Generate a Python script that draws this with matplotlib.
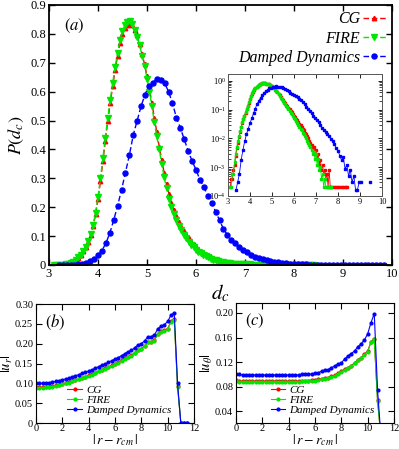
import numpy as np
import matplotlib
matplotlib.use('Agg')
import matplotlib.pyplot as plt
from matplotlib.ticker import LogLocator, NullFormatter

plt.rcParams['font.family'] = ['Liberation Serif', 'DejaVu Serif']
plt.rcParams['mathtext.fontset'] = 'stix'

# %%
# distribution of d_c, CG and FIRE binned at 0.05, damped dynamics at 0.08
d_cg = np.round(np.linspace(3.10, 8.40, 107), 2)
p_cg = [0.0002, 0.0004, 0.0004, 0.0008, 0.0012, 0.0025, 0.0045, 0.007, 0.011, 0.017,
        0.025, 0.035, 0.047, 0.062, 0.080, 0.103, 0.134, 0.175, 0.228, 0.29,
        0.36, 0.43, 0.50, 0.56, 0.62, 0.675, 0.725, 0.77, 0.80, 0.82,
        0.83, 0.835, 0.83, 0.815, 0.795, 0.765, 0.73, 0.695, 0.655, 0.61,
        0.56, 0.51, 0.46, 0.41, 0.365, 0.32, 0.28, 0.245, 0.215, 0.19,
        0.168, 0.148, 0.132, 0.117, 0.104, 0.092, 0.081, 0.071, 0.063, 0.056,
        0.049, 0.043, 0.038, 0.033, 0.029, 0.025, 0.022, 0.019, 0.016, 0.014,
        0.012, 0.010, 0.0085, 0.007, 0.006, 0.0045, 0.005, 0.003, 0.004, 0.002,
        0.003, 0.0012, 0.0018, 0.0008, 0.0012, 0.0006, 0.0008, 0.0004, 0.0006, 0.0002,
        0.0008, 0.0002, 0.0002, 0.0002, 0.0002, 0.0002, 0, 0.0002, 0.0002, 0,
        0.0002, 0, 0.0002, 0.0002, 0.0002, 0.0002, 0.0002]
p_fire = [0.0002, 0.0002, 0.0006, 0.0006, 0.0015, 0.003, 0.005, 0.008, 0.012, 0.018,
          0.026, 0.036, 0.048, 0.063, 0.082, 0.106, 0.138, 0.18, 0.235, 0.30,
          0.37, 0.44, 0.51, 0.57, 0.63, 0.685, 0.735, 0.78, 0.81, 0.83,
          0.84, 0.845, 0.835, 0.815, 0.79, 0.76, 0.725, 0.69, 0.645, 0.60,
          0.55, 0.495, 0.445, 0.40, 0.35, 0.305, 0.265, 0.23, 0.20, 0.175,
          0.155, 0.135, 0.12, 0.105, 0.092, 0.08, 0.07, 0.061, 0.053, 0.046,
          0.040, 0.035, 0.030, 0.026, 0.022, 0.019, 0.016, 0.014, 0.012, 0.010,
          0.0085, 0.007, 0.006, 0.005, 0.004, 0.0028, 0.0035, 0.002, 0.0028, 0.0012,
          0.002, 0.0008, 0.001, 0.0004, 0.0006, 0.0002, 0.0004, 0.0002, 0.0002, 0.0002,
          0.0002, 0.0002, 0.0002, 0, 0, 0, 0, 0, 0, 0,
          0, 0, 0, 0, 0, 0, 0]
d_dd = np.round(np.linspace(3.20, 9.84, 84), 2)
p_dd = [0, 0, 0.00016, 0.0003, 0.0006, 0.0018, 0.004, 0.008, 0.014, 0.022,
        0.034, 0.05, 0.075, 0.11, 0.155, 0.205, 0.26, 0.32, 0.38, 0.45,
        0.50, 0.55, 0.59, 0.62, 0.63, 0.645, 0.64, 0.63, 0.60, 0.56,
        0.51, 0.475, 0.435, 0.395, 0.36, 0.33, 0.295, 0.27, 0.24, 0.215,
        0.185, 0.155, 0.125, 0.105, 0.088, 0.075, 0.063, 0.052, 0.044, 0.036,
        0.029, 0.024, 0.020, 0.017, 0.014, 0.012, 0.0095, 0.008, 0.0062, 0.0045,
        0.0038, 0.0025, 0.0018, 0.0022, 0.0009, 0.0012, 0.0005, 0.0008, 0.0003, 0.0005,
        0.00016, 0.00016, 0.0003, 0.0003, 0, 0, 0, 0, 0.0003, 0,
        0, 0, 0, 0]

# radial profiles
r = np.arange(0, 11.51, 0.25)
ur_cg = [0.090, 0.090, 0.090, 0.091, 0.092, 0.093, 0.095, 0.097, 0.099, 0.101,
         0.103, 0.106, 0.109, 0.111, 0.114, 0.117, 0.120, 0.123, 0.127, 0.131,
         0.134, 0.138, 0.141, 0.145, 0.149, 0.153, 0.158, 0.163, 0.167, 0.171,
         0.177, 0.184, 0.187, 0.194, 0.205, 0.205, 0.209, 0.225, 0.231, 0.234,
         0.238, 0.256, 0.261, 0.094, 0.0, 0.0, 0.0]
ur_fire = [0.089, 0.089, 0.089, 0.090, 0.091, 0.092, 0.094, 0.096, 0.098, 0.100,
           0.102, 0.105, 0.108, 0.110, 0.113, 0.116, 0.119, 0.122, 0.126, 0.130,
           0.133, 0.137, 0.140, 0.144, 0.148, 0.152, 0.157, 0.162, 0.166, 0.170,
           0.176, 0.183, 0.186, 0.193, 0.204, 0.204, 0.208, 0.224, 0.230, 0.233,
           0.236, 0.255, 0.260, 0.092, 0.0, 0.0, 0.0]
ur_dd = [0.100, 0.100, 0.100, 0.101, 0.102, 0.103, 0.105, 0.107, 0.109, 0.111,
         0.113, 0.116, 0.119, 0.122, 0.125, 0.128, 0.131, 0.134, 0.138, 0.142,
         0.146, 0.149, 0.153, 0.157, 0.161, 0.165, 0.170, 0.175, 0.180, 0.183,
         0.190, 0.197, 0.200, 0.207, 0.218, 0.218, 0.222, 0.238, 0.244, 0.248,
         0.256, 0.272, 0.278, 0.100, 0.0, 0.0, 0.0]
ut_cg = [0.091, 0.089, 0.089, 0.089, 0.089, 0.089, 0.089, 0.089, 0.089, 0.089,
         0.089, 0.089, 0.089, 0.089, 0.089, 0.089, 0.089, 0.089, 0.089, 0.089,
         0.090, 0.090, 0.090, 0.091, 0.091, 0.092, 0.093, 0.094, 0.095, 0.097,
         0.099, 0.102, 0.105, 0.109, 0.111, 0.114, 0.119, 0.124, 0.127, 0.133,
         0.138, 0.153, 0.158, 0.058, 0.0, 0.0, 0.0]
ut_fire = [0.090, 0.088, 0.088, 0.088, 0.088, 0.088, 0.088, 0.088, 0.088, 0.088,
           0.088, 0.088, 0.088, 0.088, 0.088, 0.088, 0.088, 0.088, 0.088, 0.088,
           0.089, 0.089, 0.089, 0.090, 0.090, 0.091, 0.092, 0.093, 0.094, 0.096,
           0.098, 0.101, 0.104, 0.108, 0.110, 0.113, 0.118, 0.123, 0.126, 0.132,
           0.137, 0.152, 0.157, 0.056, 0.0, 0.0, 0.0]
ut_dd = [0.101, 0.100, 0.099, 0.099, 0.099, 0.099, 0.099, 0.099, 0.099, 0.099,
         0.099, 0.099, 0.099, 0.099, 0.099, 0.099, 0.099, 0.099, 0.099, 0.099,
         0.100, 0.100, 0.100, 0.101, 0.102, 0.103, 0.105, 0.107, 0.108, 0.111,
         0.114, 0.117, 0.119, 0.125, 0.130, 0.134, 0.138, 0.145, 0.150, 0.156,
         0.166, 0.184, 0.199, 0.075, 0.0, 0.0, 0.0]

labels = ['CG', 'FIRE', 'Damped Dynamics']
colors = ['#ff0000', '#00e600', '#0000ff']

# %%
def style_ticks(ax, size, width=0.8):
    ax.tick_params(direction='in', top=True, right=True, labelsize=size,
                   width=width, length=4, pad=2)

fig = plt.figure(figsize=(3.99, 4.49), dpi=100)

# main panel (a)
ax = fig.add_axes([0.1228, 0.4098, 0.8596, 0.5791])
ax.plot(d_cg, p_cg, '--', color=colors[0], marker='^', ms=3.2, lw=1, dashes=(4, 2), label=labels[0])
ax.plot(d_cg, p_fire, '--', color=colors[1], marker='v', ms=3.8, lw=1, dashes=(4, 2), label=labels[1])
ax.plot(d_dd, p_dd, '--', color=colors[2], marker='o', ms=3.6, lw=1, dashes=(4, 2), label=labels[2])
ax.set_xlim(3, 10)
ax.set_ylim(0, 0.9)
ax.set_xticks(np.arange(3, 11, 1))
ax.set_yticks(np.arange(0, 0.91, 0.1))
ax.set_yticklabels(['0', '0.1', '0.2', '0.3', '0.4', '0.5', '0.6', '0.7', '0.8', '0.9'])
style_ticks(ax, 9, 1.0)
for s in ax.spines.values():
    s.set_linewidth(1.3)
ax.set_xlabel(r'$d_c$', fontsize=15, labelpad=2)
ax.set_ylabel(r'$P(d_c)$', fontsize=13, labelpad=3)
ax.text(0.045, 0.955, r'$(a)$', transform=ax.transAxes, fontsize=12, va='top')
ax.legend(loc='upper right', markerfirst=False, frameon=False, handlelength=1.4,
          handletextpad=0.2, labelspacing=0.2, borderaxespad=0.3, borderpad=0.1,
          prop={'family': 'Liberation Serif', 'style': 'italic', 'size': 11.5})

# inset, log scale
ins = fig.add_axes([0.5714, 0.5635, 0.386, 0.2717])
for d, p, c in [(d_cg, p_cg, colors[0]), (d_cg, p_fire, colors[1]), (d_dd, p_dd, colors[2])]:
    p = np.ma.masked_less_equal(np.array(p, dtype=float), 0)
    ins.plot(d, p, '-', color=c, marker='s', ms=1.6, lw=0.6)
ins.set_yscale('log')
ins.set_xlim(3, 10)
ins.set_ylim(1e-4, 1.75)
ins.set_xticks(np.arange(3, 11, 1))
ins.yaxis.set_major_locator(LogLocator(base=10, numticks=10))
ins.yaxis.set_minor_locator(LogLocator(base=10, subs=np.arange(2, 10), numticks=20))
ins.yaxis.set_minor_formatter(NullFormatter())
ins.tick_params(which='minor', direction='in', right=True, length=2, width=0.5)
style_ticks(ins, 6, 0.6)
ins.tick_params(length=3, pad=1.5)
for s in ins.spines.values():
    s.set_linewidth(0.7)
    s.set_color('#555555')

# panel (b)
axb = fig.add_axes([0.0902, 0.0579, 0.396, 0.265])
for v, c, lab in zip([ur_cg, ur_fire, ur_dd], colors, labels):
    axb.plot(r, v, '-', color=c, marker='o', ms=2.0, lw=0.8, label=lab)
axb.set_xlim(0, 12)
axb.set_ylim(0, 0.30)
axb.set_xticks(np.arange(0, 13, 2))
axb.set_yticks(np.arange(0, 0.301, 0.05))
axb.set_yticklabels(['0', '0.05', '0.10', '0.15', '0.20', '0.25', '0.30'])
style_ticks(axb, 7.5)
axb.tick_params(axis='x', pad=1)
axb.set_xlabel(r'$|\,r-r_{cm}\,|$', fontsize=10, labelpad=-1)
axb.set_ylabel(r'$|u_r|$', fontsize=10.5, labelpad=0)
axb.text(0.06, 0.93, r'$(b)$', transform=axb.transAxes, fontsize=12, va='top')
axb.legend(loc='lower left', bbox_to_anchor=(0.15, 0.0), frameon=False, handlelength=1.3,
           handletextpad=0.4, labelspacing=0.05, borderpad=0.2,
           prop={'family': 'Liberation Serif', 'style': 'italic', 'size': 8})

# panel (c)
axc = fig.add_axes([0.5915, 0.0579, 0.396, 0.267])
for v, c, lab in zip([ut_cg, ut_fire, ut_dd], colors, labels):
    axc.plot(r, v, '-', color=c, marker='o', ms=2.0, lw=0.8, label=lab)
axc.set_xlim(0, 12)
axc.set_ylim(0.021, 0.216)
axc.set_xticks(np.arange(0, 13, 2))
axc.set_yticks([0.04, 0.08, 0.12, 0.16, 0.20])
axc.set_yticklabels(['0.04', '0.08', '0.12', '0.16', '0.20'])
style_ticks(axc, 7.5)
axc.tick_params(axis='x', pad=1)
axc.set_xlabel(r'$|\,r-r_{cm}\,|$', fontsize=10, labelpad=-1)
axc.set_ylabel(r'$|u_\theta|$', fontsize=10.5, labelpad=0)
axc.text(0.06, 0.93, r'$(c)$', transform=axc.transAxes, fontsize=12, va='top')
axc.legend(loc='lower left', bbox_to_anchor=(0.17, 0.0), frameon=False, handlelength=1.3,
           handletextpad=0.4, labelspacing=0.05, borderpad=0.2,
           prop={'family': 'Liberation Serif', 'style': 'italic', 'size': 8})

fig.savefig('out.png', dpi=100)
